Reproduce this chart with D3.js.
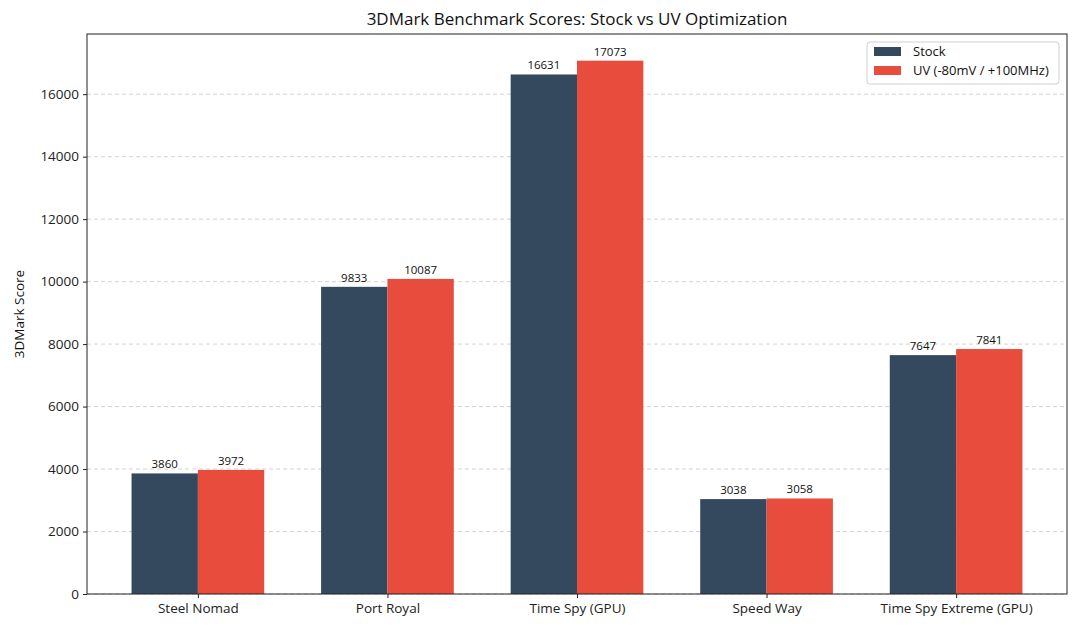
<!DOCTYPE html>
<html><head><meta charset="utf-8">
<script src="https://cdn.jsdelivr.net/npm/d3@7"></script>
<style>body{margin:0;background:#fff;font-family:"Open Sans",sans-serif;}</style>
</head><body><svg id="c" width="1080" height="630"></svg>
<script>
const categories = ["Steel Nomad","Port Royal","Time Spy (GPU)","Speed Way","Time Spy Extreme (GPU)"];
const stock = [3860, 9833, 16631, 3038, 7647];
const uv = [3972, 10087, 17073, 3058, 7841];
const seriesNames = ["Stock","UV (-80mV / +100MHz)"];
const colors = ["#34495e","#e74c3c"];
const yTicks = [0,2000,4000,6000,8000,10000,12000,14000,16000];

const svg = d3.select("#c");
const L=87, R=1067, T=34, B=594;
const barW = 0.35;
const x = d3.scaleLinear().domain([-0.585, 4.585]).range([L,R]);
const y = d3.scaleLinear().domain([0, d3.max(uv.concat(stock))*1.05]).range([B,T]);
const font = "'Open Sans', sans-serif";

// grid
svg.append("g").selectAll("line").data(yTicks).join("line")
  .attr("x1",L).attr("x2",R).attr("y1",d=>y(d)).attr("y2",d=>y(d))
  .attr("stroke","#b0b0b0").attr("stroke-opacity",0.7).attr("stroke-dasharray","4,3").attr("stroke-width",0.8);

const series = [stock, uv];
series.forEach((vals,si)=>{
  const off = si===0 ? -barW/2 : barW/2;
  svg.append("g").selectAll("rect").data(vals).join("rect")
    .attr("x",(d,i)=>x(i+off-barW/2)).attr("width",x(barW)-x(0))
    .attr("y",d=>y(d)).attr("height",d=>B-y(d))
    .attr("fill",colors[si]);
  svg.append("g").selectAll("text").data(vals).join("text")
    .attr("x",(d,i)=>x(i+off)).attr("y",d=>y(d)-5)
    .attr("text-anchor","middle").attr("font-size",11.5).attr("font-family",font).attr("fill","#111")
    .text(d=>d);
});

// frame
svg.append("rect").attr("x",L).attr("y",T).attr("width",R-L).attr("height",B-T)
  .attr("fill","none").attr("stroke","#222").attr("stroke-width",1);

// y axis
const ya = svg.append("g").attr("transform",`translate(${L},0)`)
  .call(d3.axisLeft(y).tickValues(yTicks).tickSize(4).tickPadding(4).tickFormat(d3.format("d")));
ya.select(".domain").remove();
ya.selectAll("text").attr("font-size",13.5).attr("font-family",font).attr("fill","#222");
ya.selectAll("line").attr("stroke","#222");

// x axis
const xa = svg.append("g").attr("transform",`translate(0,${B})`)
  .call(d3.axisBottom(x).tickValues(d3.range(categories.length)).tickSize(4).tickPadding(5).tickFormat(i=>categories[i]));
xa.select(".domain").remove();
xa.selectAll("text").attr("font-size",13.5).attr("font-family",font).attr("fill","#222");
xa.selectAll("line").attr("stroke","#222");

// labels
svg.append("text").attr("x",(L+R)/2).attr("y",25).attr("text-anchor","middle")
  .attr("font-size",17).attr("font-family",font).attr("fill","#111").text("3DMark Benchmark Scores: Stock vs UV Optimization");
svg.append("text").attr("transform",`translate(24,${(T+B)/2}) rotate(-90)`).attr("text-anchor","middle")
  .attr("font-size",13.5).attr("font-family",font).attr("fill","#111").text("3DMark Score");

// legend
const lg = svg.append("g");
lg.append("rect").attr("x",867).attr("y",42).attr("width",192).attr("height",42).attr("rx",3)
  .attr("fill","#fff").attr("fill-opacity",0.8).attr("stroke","#d0d0d0");
seriesNames.forEach((n,i)=>{
  lg.append("rect").attr("x",874).attr("y",47+i*19).attr("width",27).attr("height",9).attr("fill",colors[i]);
  lg.append("text").attr("x",913).attr("y",56+i*19).attr("font-size",13).attr("font-family",font).attr("fill","#111").text(n);
});
</script></body></html>
